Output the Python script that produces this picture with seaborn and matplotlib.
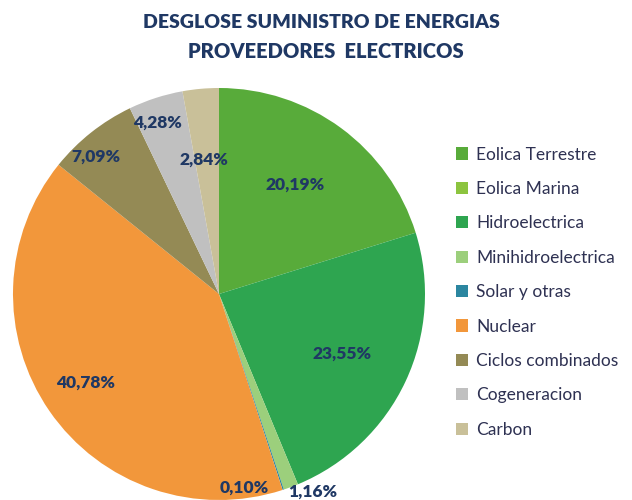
import numpy as np
import matplotlib
matplotlib.use("Agg")
import matplotlib.pyplot as plt
import seaborn as sns

categories = ["Eolica Terrestre", "Eolica Marina", "Hidroelectrica", "Minihidroelectrica",
              "Solar y otras", "Nuclear", "Ciclos combinados", "Cogeneracion", "Carbon"]
values = [20.19, 0.0, 23.55, 1.16, 0.10, 40.78, 7.09, 4.28, 2.84]
label_texts = ["20,19%", "", "23,55%", "1,16%", "0,10%", "40,78%", "7,09%", "4,28%", "2,84%"]

colors = ["#58ab3a", "#8cc43f", "#2ea550", "#9ccf7c", "#2b86a0",
          "#f2973b", "#948a55", "#c0c0c0", "#c9c099"]
# label placement style: (radial factor, angle shift in degrees)
label_style = [(0.66, 0), (0, 0), (0.68, 0), (1.07, 6), (0.95, -9.5),
               (0.76, 0), (0.88, 2.5), (0.875, 0.5), (0.655, -0.4)]

sns.set_theme(style="white")
plt.rcParams['font.family'] = ['Lato', 'DejaVu Sans']

fig = plt.figure(figsize=(6.32, 5.0), dpi=100)
r_px = 206
cx, cy = 219, 294
ax = fig.add_axes([(cx - r_px) / 632, (500 - cy - r_px) / 500, 2 * r_px / 632, 2 * r_px / 500])

wedges, _ = ax.pie(values, colors=colors, startangle=90, counterclock=False,
                   wedgeprops=dict(linewidth=0, edgecolor="none"))
ax.set_xlim(-1, 1)
ax.set_ylim(-1, 1)
ax.set_aspect("equal")
ax.axis("off")

navy = "#1f3864"
for w, txt, (fac, shift) in zip(wedges, label_texts, label_style):
    if not txt:
        continue
    ang = np.deg2rad((w.theta1 + w.theta2) / 2 + shift)
    ax.text(fac * np.cos(ang) - 0.02, fac * np.sin(ang), txt, ha="center", va="center",
            fontsize=12.5, fontweight="heavy", color=navy, clip_on=False)

fig.text(0.508, 1 - 22 / 500, "DESGLOSE SUMINISTRO DE ENERGIAS", ha="center", va="center",
         fontsize=14, fontweight="heavy", color=navy)
fig.text(0.515, 1 - 52 / 500, "PROVEEDORES  ELECTRICOS", ha="center", va="center",
         fontsize=14.5, fontweight="heavy", color=navy)

leg = fig.legend(wedges, categories, loc="upper left",
                 bbox_to_anchor=(440 / 632, 1 - 131 / 500), frameon=False,
                 fontsize=12.5, handlelength=0.7, handleheight=0.7, handletextpad=0.5,
                 labelspacing=1.06, labelcolor="#2e3152")

fig.savefig("out.png", dpi=100)
